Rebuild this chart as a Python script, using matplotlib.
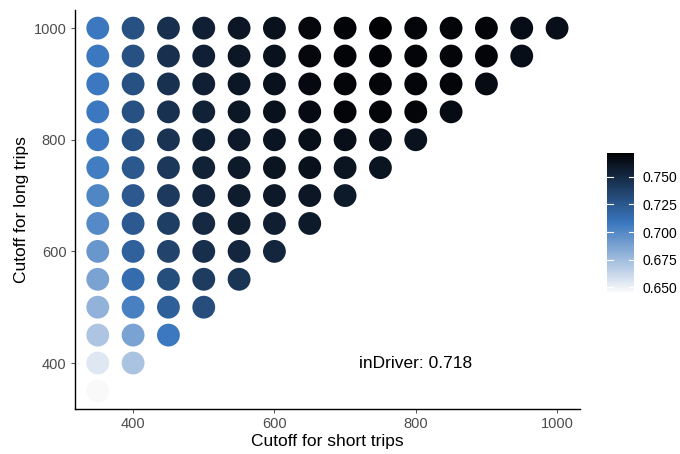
import matplotlib
matplotlib.use("Agg")
import matplotlib.pyplot as plt
import numpy as np
from matplotlib.colors import LinearSegmentedColormap

plt.rcParams['font.family'] = ['Liberation Sans', 'DejaVu Sans']

# Cutoffs (short trips on x, long trips on y); one column of scores per short cutoff
short_cutoffs = [350, 400, 450, 500, 550, 600, 650, 700, 750, 800, 850, 900, 950, 1000]

# scores for long cutoff = short cutoff ... 1000
scores = {
    350: [0.6457, 0.655, 0.671, 0.680, 0.688, 0.693, 0.6997, 0.7013, 0.7058, 0.708, 0.708, 0.708, 0.708, 0.708],
    400: [0.672, 0.688, 0.7038, 0.7143, 0.7203, 0.724, 0.7249, 0.7253, 0.7285, 0.7285, 0.7285, 0.7285, 0.7285],
    450: [0.708, 0.7213, 0.7305, 0.7365, 0.7392, 0.7411, 0.7428, 0.7448, 0.746, 0.746, 0.7465, 0.7465],
    500: [0.7312, 0.7405, 0.7471, 0.7501, 0.7524, 0.7541, 0.7553, 0.7548, 0.7558, 0.7558, 0.7558],
    550: [0.7445, 0.7518, 0.7561, 0.7571, 0.7587, 0.7591, 0.760, 0.760, 0.7604, 0.7604],
    600: [0.7518, 0.7561, 0.7591, 0.7614, 0.7617, 0.763, 0.763, 0.763, 0.7631],
    650: [0.7587, 0.7604, 0.7631, 0.7644, 0.7663, 0.768, 0.7687, 0.7687],
    700: [0.7587, 0.7617, 0.7644, 0.770, 0.770, 0.7705, 0.7705],
    750: [0.7617, 0.7644, 0.770, 0.770, 0.7705, 0.7717],
    800: [0.7624, 0.770, 0.770, 0.770, 0.770],
    850: [0.766, 0.770, 0.770, 0.770],
    900: [0.766, 0.770, 0.770],
    950: [0.765, 0.7657],
    1000: [0.7644],
}

indriver_score = 0.718

xs, ys, vals = [], [], []
for s in short_cutoffs:
    longs = [l for l in short_cutoffs if l >= s]
    for l, v in zip(longs, scores[s]):
        xs.append(s)
        ys.append(l)
        vals.append(v)

cmap = LinearSegmentedColormap.from_list(
    "wbk", ["#f9f9fa", "#3a76be", "#020204"])

fig = plt.figure(figsize=(6.8, 4.54), dpi=100)
ax = fig.add_axes([0.110, 0.099, 0.743, 0.879])

sc = ax.scatter(xs, ys, c=vals, cmap=cmap, vmin=min(vals), vmax=max(vals),
                s=270, linewidths=0)

ax.text(800, 400, f"inDriver: {indriver_score}", ha="center", va="center",
        fontsize=12.5, color="black")

ax.set_xlim(317.5, 1032.5)
ax.set_ylim(317.5, 1032.5)
ax.set_xticks([400, 600, 800, 1000])
ax.set_yticks([400, 600, 800, 1000])
ax.set_xlabel("Cutoff for short trips", fontsize=12.5, labelpad=2)
ax.set_ylabel("Cutoff for long trips", fontsize=12.5, labelpad=3)
ax.tick_params(labelsize=10.5, labelcolor="#4d4d4d", color="#333333",
               length=3, width=0.6, pad=3)
for side in ["top", "right"]:
    ax.spines[side].set_visible(False)
for side in ["left", "bottom"]:
    ax.spines[side].set_linewidth(1.0)
    ax.spines[side].set_color("black")

cax = fig.add_axes([0.893, 0.357, 0.040, 0.306])
cb = fig.colorbar(sc, cax=cax)
cb.outline.set_visible(False)
cb.set_ticks([0.650, 0.675, 0.700, 0.725, 0.750])
cb.set_ticklabels(["0.650", "0.675", "0.700", "0.725", "0.750"])
cax.tick_params(length=0, labelsize=10, labelcolor="black", pad=6)
for t in [0.650, 0.675, 0.700, 0.725, 0.750]:
    cax.plot([0, 0.2], [t, t], color="white", lw=0.8, transform=cax.get_yaxis_transform())
    cax.plot([0.8, 1.0], [t, t], color="white", lw=0.8, transform=cax.get_yaxis_transform())

fig.savefig("out.png", dpi=100)
